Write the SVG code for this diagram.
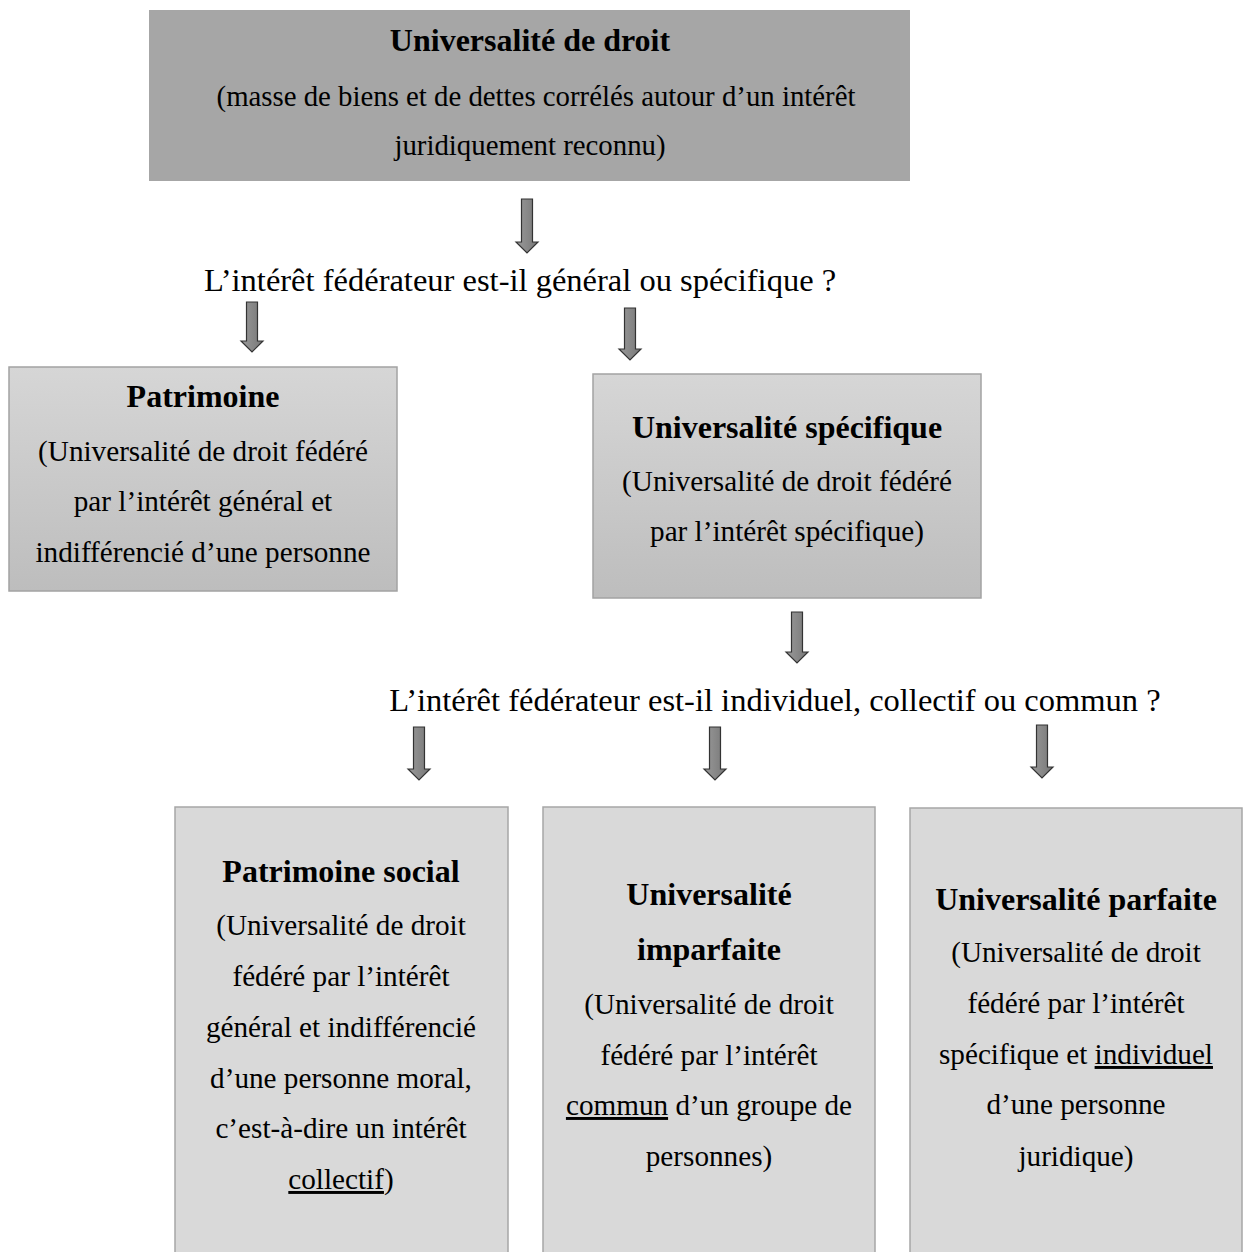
<svg xmlns="http://www.w3.org/2000/svg" width="1248" height="1252" viewBox="0 0 1248 1252">
<defs>
<linearGradient id="gbox" x1="0" y1="0" x2="0" y2="1">
<stop offset="0" stop-color="#d6d6d6"/>
<stop offset="1" stop-color="#bdbdbd"/>
</linearGradient>
<linearGradient id="garr" x1="0" y1="0" x2="1" y2="0">
<stop offset="0" stop-color="#9a9a9a"/>
<stop offset="1" stop-color="#777777"/>
</linearGradient>
</defs>
<style>
text{font-family:"Liberation Serif","Times New Roman",serif;font-size:29.2px;fill:#000;text-anchor:middle}
.t{font-size:28.8px}
.b{font-weight:bold;font-size:32px}
.q{font-size:32.5px}
.u{text-decoration:underline}
.top{fill:#a6a6a6}
.mid{fill:url(#gbox);stroke:#a3a3a3;stroke-width:1.5}
.low{fill:#d9d9d9;stroke:#a6a6a6;stroke-width:1.5}
.arr{fill:url(#garr);stroke:#333;stroke-width:1.2}
</style>
<rect width="1248" height="1252" fill="#fff"/>

<g id="node-universalite-droit">
<rect class="top" x="149" y="10" width="761" height="171"/>
<text class="b" x="530" y="51">Universalité de droit</text>
<text class="t" x="536" y="106">(masse de biens et de dettes corrélés autour d’un intérêt</text>
<text class="t" x="530" y="155">juridiquement reconnu)</text>
</g>

<g id="question-1">
<text class="q" x="520" y="291">L’intérêt fédérateur est-il général ou spécifique ?</text>
</g>

<g id="node-patrimoine">
<rect class="mid" x="9" y="367" width="388" height="224"/>
<text class="b" x="203" y="407">Patrimoine</text>
<text x="203" y="461">(Universalité de droit fédéré</text>
<text x="203" y="511">par l’intérêt général et</text>
<text x="203" y="562">indifférencié d’une personne</text>
</g>

<g id="node-universalite-specifique">
<rect class="mid" x="593" y="374" width="388" height="224"/>
<text class="b" x="787" y="438">Universalité spécifique</text>
<text x="787" y="491">(Universalité de droit fédéré</text>
<text x="787" y="541">par l’intérêt spécifique)</text>
</g>

<g id="question-2">
<text class="q" x="775" y="711">L’intérêt fédérateur est-il individuel, collectif ou commun ?</text>
</g>

<g id="node-patrimoine-social">
<rect class="low" x="175" y="807" width="333" height="460"/>
<text class="b" x="341" y="882">Patrimoine social</text>
<text x="341" y="935">(Universalité de droit</text>
<text x="341" y="986">fédéré par l’intérêt</text>
<text x="341" y="1037">général et indifférencié</text>
<text x="341" y="1088">d’une personne moral,</text>
<text x="341" y="1138">c’est-à-dire un intérêt</text>
<text x="341" y="1189"><tspan class="u">collectif</tspan>)</text>
</g>

<g id="node-universalite-imparfaite">
<rect class="low" x="543" y="807" width="332" height="460"/>
<text class="b" x="709" y="905">Universalité</text>
<text class="b" x="709" y="960">imparfaite</text>
<text x="709" y="1014">(Universalité de droit</text>
<text x="709" y="1065">fédéré par l’intérêt</text>
<text x="709" y="1115"><tspan class="u">commun</tspan> d’un groupe de</text>
<text x="709" y="1166">personnes)</text>
</g>

<g id="node-universalite-parfaite">
<rect class="low" x="910" y="808" width="332" height="460"/>
<text class="b" x="1076" y="910">Universalité parfaite</text>
<text x="1076" y="962">(Universalité de droit</text>
<text x="1076" y="1013">fédéré par l’intérêt</text>
<text x="1076" y="1064">spécifique et <tspan class="u">individuel</tspan></text>
<text x="1076" y="1114">d’une personne</text>
<text x="1076" y="1166">juridique)</text>
</g>

<g id="connectors">
<path class="arr" d="M521.5 199 H532.5 V242 H538 L527 253 L516 242 H521.5 Z"/>
<path class="arr" d="M246.5 302 H257.5 V341 H263 L252 352 L241 341 H246.5 Z"/>
<path class="arr" d="M624.5 308 H635.5 V349 H641 L630 360 L619 349 H624.5 Z"/>
<path class="arr" d="M791.5 612 H802.5 V652 H808 L797 663 L786 652 H791.5 Z"/>
<path class="arr" d="M413.5 727 H424.5 V769 H430 L419 780 L408 769 H413.5 Z"/>
<path class="arr" d="M709.5 727 H720.5 V769 H726 L715 780 L704 769 H709.5 Z"/>
<path class="arr" d="M1036.5 725 H1047.5 V767 H1053 L1042 778 L1031 767 H1036.5 Z"/>
</g>
</svg>
